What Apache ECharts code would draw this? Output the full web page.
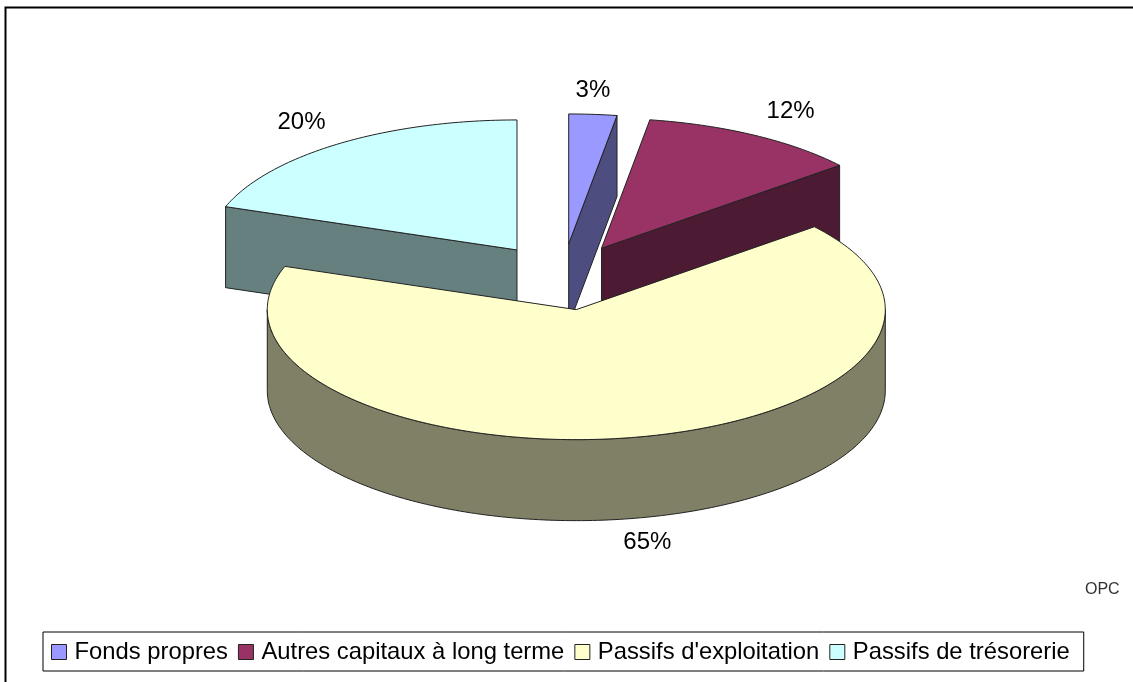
<!DOCTYPE html>
<html>
<head>
<meta charset="utf-8">
<style>html,body{margin:0;padding:0;background:#fff}#c{width:1133px;height:682px}</style>
<script src="https://cdn.jsdelivr.net/npm/echarts@6/dist/echarts.min.js"></script>
</head>
<body>
<div id="c"></div>
<script>
// Data
const categories = ["Fonds propres", "Autres capitaux à long terme", "Passifs d'exploitation", "Passifs de trésorerie"];
const shares = [2.5, 11.5, 66.4, 19.6];            // slice sizes
const percentLabels = ["3%", "12%", "65%", "20%"];
const topColors = ["#9999FF", "#993366", "#FFFFCC", "#CCFFFF"];
const sideColors = ["#4D4D80", "#4D1A33", "#808066", "#668080"];
const paintOrder = [3, 1, 0, 2];

// Layout
const centre = [562.5, 277], rx = 309, ry = 130, depth = 81, explode = 0.255;
const labelShift = [[0, -24], [36, -24], [17, 24], [-37, -21]];
const edge = '#222';

const total = shares.reduce((a, b) => a + b, 0);
function sliceAngles(i) {
  const before = shares.slice(0, i).reduce((a, b) => a + b, 0);
  return [before / total * 360, (before + shares[i]) / total * 360];
}
const rad = d => d * Math.PI / 180;

function renderSlice(i) {
  return function () {
    const [s, e] = sliceAngles(i);
    const m = (s + e) / 2;
    const cx = centre[0] + explode * rx * Math.sin(rad(m));
    const cy = centre[1] - explode * ry * Math.cos(rad(m));
    const rim = (a, dy) => [cx + rx * Math.sin(rad(a)), cy - ry * Math.cos(rad(a)) + (dy || 0)];
    const arc = (a, b, dy) => {
      const pts = [], n = Math.max(2, Math.ceil(Math.abs(b - a)));
      for (let k = 0; k <= n; k++) pts.push(rim(a + (b - a) * k / n, dy));
      return pts;
    };
    const poly = (points, fill) => ({
      type: 'polygon', shape: { points },
      style: { fill, stroke: edge, lineWidth: 1 }
    });
    const children = [];
    const cutFace = a => poly([[cx, cy], rim(a), rim(a, depth), [cx, cy + depth]], sideColors[i]);
    if (Math.sin(rad(e)) > 0.001) children.push(cutFace(e));
    if (Math.sin(rad(s)) < -0.001) children.push(cutFace(s));
    const w0 = Math.max(s, 90), w1 = Math.min(e, 270);
    if (w1 > w0) children.push(poly(arc(w0, w1, 0).concat(arc(w1, w0, depth)), sideColors[i]));
    children.push(poly([[cx, cy]].concat(arc(s, e, 0)), topColors[i]));
    const base = rim(m, Math.cos(rad(m)) < 0 ? depth : 0);
    children.push({
      type: 'text',
      style: {
        x: base[0] + labelShift[i][0], y: base[1] + labelShift[i][1],
        text: percentLabels[i], fill: '#000', align: 'center', verticalAlign: 'middle',
        font: '24px "Liberation Sans", Arial, sans-serif'
      }
    });
    return { type: 'group', children };
  };
}

const chart = echarts.init(document.getElementById('c'), null, { renderer: 'canvas' });
chart.setOption({
  animation: false,
  backgroundColor: '#fff',
  graphic: [
    { type: 'polyline', silent: true, shape: { points: [[5.5, 682], [5.5, 7.5], [1133, 7.5]] }, style: { stroke: '#000', lineWidth: 2, fill: 'none' } },
    { type: 'text', silent: true, style: { x: 1085, y: 590, text: 'OPC', fill: '#333', verticalAlign: 'middle', font: '16px "Liberation Sans", Arial, sans-serif' } }
  ],
  legend: {
    left: 43, top: 632,
    padding: [8, 14, 7, 8],
    itemGap: 10, itemWidth: 15, itemHeight: 15,
    icon: 'rect',
    borderColor: '#000', borderWidth: 1, backgroundColor: '#fff',
    selectedMode: false,
    data: categories,
    textStyle: { fontFamily: '"Liberation Sans", Arial, sans-serif', fontSize: 23.8, color: '#000', padding: [0, 0, 0, 3] },
    itemStyle: { borderColor: '#222', borderWidth: 1 }
  },
  series: paintOrder.map((i, z) => ({
    type: 'custom',
    name: categories[i],
    coordinateSystem: 'none',
    silent: true,
    z: z + 2,
    itemStyle: { color: topColors[i] },
    renderItem: renderSlice(i),
    data: [[shares[i]]]
  }))
});
</script>
</body>
</html>
